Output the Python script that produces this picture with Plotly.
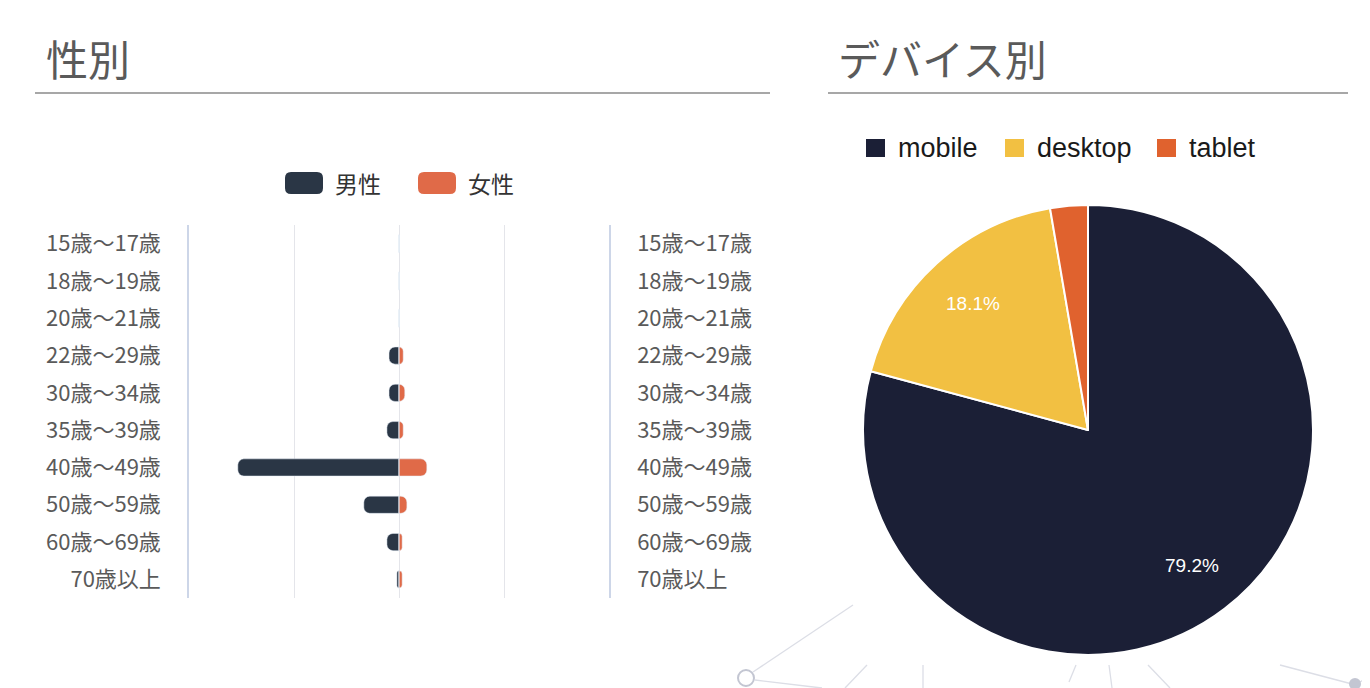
import math
import plotly.graph_objects as go

W, H = 1370, 688

# --- data ---
ages = ['15歳〜17歳', '18歳〜19歳', '20歳〜21歳', '22歳〜29歳', '30歳〜34歳',
        '35歳〜39歳', '40歳〜49歳', '50歳〜59歳', '60歳〜69歳', '70歳以上']
male = [0, 0, 0, 1.9, 1.9, 2.3, 30.7, 6.7, 2.3, 0.4]
female = [0, 0, 0, 0.8, 1.1, 0.8, 5.3, 1.5, 0.6, 0.6]

devices = ['mobile', 'desktop', 'tablet']
device_share = [79.2, 18.1, 2.7]
device_text = ['79.2%', '18.1%', '']

gender_names = ['男性', '女性']
gender_colors = ['#2a3645', '#e06a48']
device_colors = ['#1b1f36', '#f2c042', '#e0622e']

JP = 'Noto Sans CJK JP'
LAT = 'Liberation Sans'
OFF = 8  # page body margin


def px(x):
    return (x - OFF) / W


def py(y):
    return 1 - (y - OFF) / H


fig = go.Figure()

fig.add_trace(go.Bar(y=ages, x=[-v for v in male], orientation='h', name=gender_names[0],
                     marker=dict(color=gender_colors[0], cornerradius=6), width=0.46,
                     showlegend=False, hoverinfo='skip'))
fig.add_trace(go.Bar(y=ages, x=female, orientation='h', name=gender_names[1],
                     marker=dict(color=gender_colors[1], cornerradius=6), width=0.46,
                     showlegend=False, hoverinfo='skip'))
# invisible trace so the right axis gets the same labels
fig.add_trace(go.Bar(y=ages, x=[0] * len(ages), orientation='h', yaxis='y2',
                     marker_color='rgba(0,0,0,0)', showlegend=False, hoverinfo='skip'))

# pie geometry (pixels)
pie_x0, pie_x1, pie_y0, pie_y1 = 863, 1313, 205, 655
fig.add_trace(go.Pie(labels=devices, values=device_share, textinfo='none',
                     sort=False, direction='clockwise', rotation=0,
                     marker=dict(colors=device_colors, line=dict(color='white', width=2)),
                     domain=dict(x=[px(pie_x0), px(pie_x1)], y=[py(pie_y1), py(pie_y0)]),
                     showlegend=False, hoverinfo='skip'))

ax_font = dict(family=JP, size=22, color='#5a5a5a')
fig.update_layout(
    width=W, height=H, margin=dict(l=0, r=0, t=0, b=0),
    paper_bgcolor='white', plot_bgcolor='white',
    barmode='relative', bargap=0.5,
    xaxis=dict(domain=[px(189), px(609)], range=[-40, 40], dtick=20, tick0=0,
               showticklabels=False, gridcolor='#e4e5ea', gridwidth=1, zeroline=False,
               fixedrange=True),
    yaxis=dict(domain=[py(598), py(225)], autorange='reversed', showline=True,
               linecolor='#cdd6e8', linewidth=1.5, showgrid=False, tickfont=ax_font,
               ticks='', ticklabelstandoff=22, categoryorder='array', categoryarray=ages),
    yaxis2=dict(domain=[py(598), py(225)], overlaying='y', side='right', autorange='reversed',
                anchor='x', showline=True, linecolor='#cdd6e8', linewidth=1.5, showgrid=False,
                tickfont=ax_font, ticks='', ticklabelstandoff=22,
                categoryorder='array', categoryarray=ages),
)

shapes = []
annotations = []

# pie percentage labels placed along each slice's middle angle
cx, cy = (pie_x0 + pie_x1) / 2, (pie_y0 + pie_y1) / 2
rad = (pie_x1 - pie_x0) / 2 * 0.76
total = sum(device_share)
cum = 0
for v, t in zip(device_share, device_text):
    mid = (cum + v / 2) / total * 2 * math.pi
    cum += v
    if not t:
        continue
    annotations.append(dict(text=t, x=px(cx + rad * math.sin(mid)), y=py(cy - rad * math.cos(mid)),
                            xref='paper', yref='paper', xanchor='center', yanchor='middle',
                            showarrow=False, font=dict(family=LAT, size=19, color='white')))

# section titles and underlines
for title, x_text, x0, x1 in [('性別', 44, 35, 770), ('デバイス別', 836, 828, 1348)]:
    annotations.append(dict(text=title, x=px(x_text), y=py(57), xref='paper', yref='paper',
                            xanchor='left', yanchor='middle', showarrow=False,
                            font=dict(family=JP, size=42, color='#5a5a5a')))
    shapes.append(dict(type='line', xref='paper', yref='paper', x0=px(x0), x1=px(x1),
                       y0=py(93), y1=py(93), line=dict(color='#8a8a8a', width=1.5)))

# gender legend (rounded swatches)
for name, color, sx in zip(gender_names, gender_colors, [304, 437]):
    shapes.append(dict(type='path', xref='paper', yref='paper', xsizemode='pixel',
                       ysizemode='pixel', xanchor=px(sx), yanchor=py(183),
                       path='M -13 -11 L 13 -11 Q 19 -11 19 -5 L 19 5 Q 19 11 13 11 '
                            'L -13 11 Q -19 11 -19 5 L -19 -5 Q -19 -11 -13 -11 Z',
                       fillcolor=color, line=dict(width=0)))
    annotations.append(dict(text=name, x=px(sx + 29), y=py(183), xref='paper', yref='paper',
                            xanchor='left', yanchor='middle', showarrow=False,
                            font=dict(family=JP, size=23, color='#333333')))

# device legend
for name, color, sx in zip(devices, device_colors, [866, 1005, 1157]):
    shapes.append(dict(type='rect', xref='paper', yref='paper', x0=px(sx), x1=px(sx + 19),
                       y0=py(157), y1=py(139), fillcolor=color, line=dict(width=0)))
    annotations.append(dict(text=name, x=px(sx + 30), y=py(148), xref='paper', yref='paper',
                            xanchor='left', yanchor='middle', showarrow=False,
                            font=dict(family=LAT, size=27, color='#1a1a1a')))

# faint background network decoration
deco = [(753, 672, 853, 605), (755, 680, 822, 688), (867, 665, 845, 688), (923, 665, 923, 688),
        (1076, 665, 1069, 682), (1109, 665, 1112, 688), (1148, 665, 1170, 688),
        (1280, 665, 1352, 684), (1370, 676, 1360, 682)]
for x0, y0, x1, y1 in deco:
    shapes.append(dict(type='line', xref='paper', yref='paper', layer='below',
                       x0=px(x0), y0=py(y0), x1=px(x1), y1=py(y1),
                       line=dict(color='#dcdee6', width=1.3)))
shapes.append(dict(type='circle', xref='paper', yref='paper', layer='below',
                   x0=px(738), x1=px(754), y0=py(686), y1=py(670),
                   line=dict(color='#c3c6d2', width=2), fillcolor='white'))
shapes.append(dict(type='circle', xref='paper', yref='paper', layer='below',
                   x0=px(1349), x1=px(1361), y0=py(690), y1=py(678),
                   line=dict(width=0), fillcolor='#c3c6d2'))

fig.update_layout(shapes=shapes, annotations=annotations)

fig.write_html("out.html")
